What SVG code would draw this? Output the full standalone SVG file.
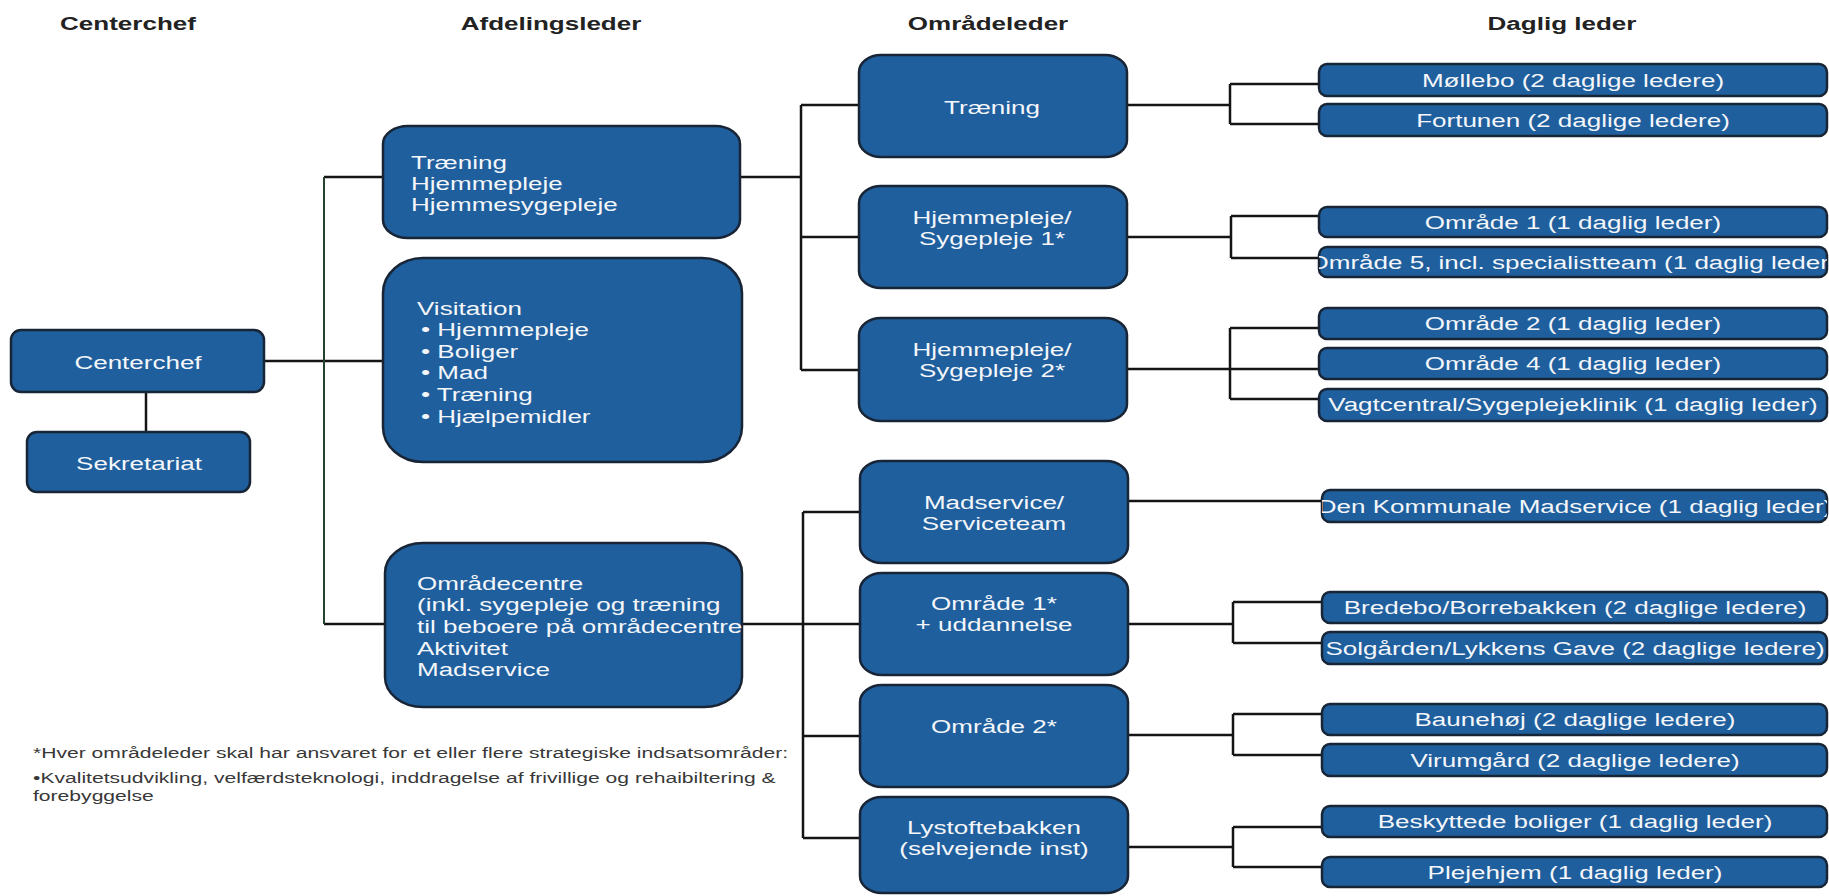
<svg xmlns="http://www.w3.org/2000/svg" width="1829" height="896" viewBox="0 0 1829 896">
<style>
.box{fill:#1f5f9d;stroke:#182536;stroke-width:2.5}
.t{font-family:"Liberation Sans",Arial,sans-serif;font-size:19px;fill:#f4f6fa}
.c{text-anchor:middle}
.h{font-family:"Liberation Sans",Arial,sans-serif;font-size:19px;font-weight:bold;fill:#222;text-anchor:middle}
.fn{font-family:"Liberation Sans",Arial,sans-serif;font-size:15.4px;fill:#383838}
.ln{fill:none;stroke:#141414;stroke-width:2.5}
.lg{fill:none;stroke:#24412f;stroke-width:2}
</style>
<defs>
<clipPath id="clip5"><rect x="1319" y="247" width="508" height="30" rx="8"/></clipPath>
<clipPath id="clipDK"><rect x="1322" y="490" width="505" height="32" rx="8"/></clipPath>
</defs>
<rect width="1829" height="896" fill="#ffffff"/>

<g id="headers">
<text class="h" transform="translate(128 30) scale(1.37 1)">Centerchef</text>
<text class="h" transform="translate(551 30) scale(1.37 1)">Afdelingsleder</text>
<text class="h" transform="translate(988 30) scale(1.37 1)">Områdeleder</text>
<text class="h" transform="translate(1562 30) scale(1.37 1)">Daglig leder</text>
</g>

<g id="connectors">
<path class="ln" d="M146 392V432"/>
<path class="ln" d="M264 361H383"/>
<path class="ln" d="M383 177H324M324 624H385"/>
<path class="lg" d="M324 177V624"/>
<path class="ln" d="M740 177H801M801 105V370M801 105H859M801 237H859M801 370H859"/>
<path class="ln" d="M742 624H803M803 512V838M803 512H860M803 624H860M803 736H860M803 838H860"/>
<path class="ln" d="M1127 105H1230M1230 84V124M1230 84H1319M1230 124H1319"/>
<path class="ln" d="M1127 237H1231M1231 216V258M1231 216H1319M1231 258H1319"/>
<path class="ln" d="M1127 369H1230M1230 328V399M1230 328H1319M1230 369H1319M1230 399H1319"/>
<path class="ln" d="M1128 501H1322"/>
<path class="ln" d="M1128 624H1233M1233 602V643M1233 602H1322M1233 643H1322"/>
<path class="ln" d="M1128 735H1233M1233 714V755M1233 714H1322M1233 755H1322"/>
<path class="ln" d="M1128 847H1233M1233 827V867M1233 827H1322M1233 867H1322"/>
</g>

<g id="centerchef">
<rect class="box" x="11" y="330" width="253" height="62" rx="10"/>
<text class="t c" transform="translate(138 369) scale(1.37 1)">Centerchef</text>
</g>
<g id="sekretariat">
<rect class="box" x="27" y="432" width="223" height="60" rx="10"/>
<text class="t c" transform="translate(139 470) scale(1.37 1)">Sekretariat</text>
</g>

<g id="afd-traening">
<rect class="box" x="383" y="126" width="357" height="112" rx="25" ry="18"/>
<text class="t" transform="translate(411 169) scale(1.37 1)">Træning</text>
<text class="t" transform="translate(411 190) scale(1.37 1)">Hjemmepleje</text>
<text class="t" transform="translate(411 211) scale(1.37 1)">Hjemmesygepleje</text>
</g>
<g id="afd-visitation">
<rect class="box" x="383" y="258" width="359" height="204" rx="40" ry="35"/>
<text class="t" transform="translate(417 315) scale(1.37 1)">Visitation</text>
<text class="t" transform="translate(421 336) scale(1.37 1)">• Hjemmepleje</text>
<text class="t" transform="translate(421 358) scale(1.37 1)">• Boliger</text>
<text class="t" transform="translate(421 379) scale(1.37 1)">• Mad</text>
<text class="t" transform="translate(421 401) scale(1.37 1)">• Træning</text>
<text class="t" transform="translate(421 423) scale(1.37 1)">• Hjælpemidler</text>
</g>
<g id="afd-omraadecentre">
<rect class="box" x="385" y="543" width="357" height="164" rx="38" ry="30"/>
<text class="t" transform="translate(417 590) scale(1.37 1)">Områdecentre</text>
<text class="t" transform="translate(417 611) scale(1.37 1)">(inkl. sygepleje og træning</text>
<text class="t" transform="translate(417 633) scale(1.37 1)">til beboere på områdecentre</text>
<text class="t" transform="translate(417 655) scale(1.37 1)">Aktivitet</text>
<text class="t" transform="translate(417 676) scale(1.37 1)">Madservice</text>
</g>

<g id="omr-traening">
<rect class="box" x="859" y="55" width="268" height="102" rx="22" ry="17"/>
<text class="t c" transform="translate(992 114) scale(1.37 1)">Træning</text>
</g>
<g id="omr-hs1">
<rect class="box" x="859" y="186" width="268" height="102" rx="22" ry="17"/>
<text class="t c" transform="translate(992 224) scale(1.37 1)">Hjemmepleje/</text>
<text class="t c" transform="translate(992 245) scale(1.37 1)">Sygepleje 1*</text>
</g>
<g id="omr-hs2">
<rect class="box" x="859" y="318" width="268" height="103" rx="22" ry="17"/>
<text class="t c" transform="translate(992 356) scale(1.37 1)">Hjemmepleje/</text>
<text class="t c" transform="translate(992 377) scale(1.37 1)">Sygepleje 2*</text>
</g>
<g id="omr-madservice">
<rect class="box" x="860" y="461" width="268" height="102" rx="22" ry="17"/>
<text class="t c" transform="translate(994 509) scale(1.37 1)">Madservice/</text>
<text class="t c" transform="translate(994 530) scale(1.37 1)">Serviceteam</text>
</g>
<g id="omr-omraade1">
<rect class="box" x="860" y="573" width="268" height="102" rx="22" ry="17"/>
<text class="t c" transform="translate(994 610) scale(1.37 1)">Område 1*</text>
<text class="t c" transform="translate(994 631) scale(1.37 1)">+ uddannelse</text>
</g>
<g id="omr-omraade2">
<rect class="box" x="860" y="685" width="268" height="102" rx="22" ry="17"/>
<text class="t c" transform="translate(994 733) scale(1.37 1)">Område 2*</text>
</g>
<g id="omr-lystoftebakken">
<rect class="box" x="860" y="797" width="268" height="96" rx="22" ry="17"/>
<text class="t c" transform="translate(994 834) scale(1.37 1)">Lystoftebakken</text>
<text class="t c" transform="translate(994 855) scale(1.37 1)">(selvejende inst)</text>
</g>

<g id="dl-moellebo">
<rect class="box" x="1319" y="64" width="508" height="32" rx="8"/>
<text class="t c" transform="translate(1573 87) scale(1.37 1)">Møllebo (2 daglige ledere)</text>
</g>
<g id="dl-fortunen">
<rect class="box" x="1319" y="104" width="508" height="32" rx="8"/>
<text class="t c" transform="translate(1573 127) scale(1.37 1)">Fortunen (2 daglige ledere)</text>
</g>
<g id="dl-omr1">
<rect class="box" x="1319" y="207" width="508" height="30" rx="8"/>
<text class="t c" transform="translate(1573 229) scale(1.37 1)">Område 1 (1 daglig leder)</text>
</g>
<g id="dl-omr5">
<rect class="box" x="1319" y="247" width="508" height="30" rx="8"/>
<g clip-path="url(#clip5)">
<text class="t c" transform="translate(1573 269) scale(1.37 1)">Område 5, incl. specialistteam (1 daglig leder)</text>
</g>
</g>
<g id="dl-omr2">
<rect class="box" x="1319" y="308" width="508" height="31" rx="8"/>
<text class="t c" transform="translate(1573 330) scale(1.37 1)">Område 2 (1 daglig leder)</text>
</g>
<g id="dl-omr4">
<rect class="box" x="1319" y="348" width="508" height="31" rx="8"/>
<text class="t c" transform="translate(1573 370) scale(1.37 1)">Område 4 (1 daglig leder)</text>
</g>
<g id="dl-vagtcentral">
<rect class="box" x="1319" y="389" width="508" height="32" rx="8"/>
<text class="t c" transform="translate(1573 411) scale(1.37 1)">Vagtcentral/Sygeplejeklinik (1 daglig leder)</text>
</g>
<g id="dl-madservice">
<rect class="box" x="1322" y="490" width="505" height="32" rx="8"/>
<g clip-path="url(#clipDK)">
<text class="t c" transform="translate(1575 513) scale(1.37 1)">Den Kommunale Madservice (1 daglig leder)</text>
</g>
</g>
<g id="dl-bredebo">
<rect class="box" x="1322" y="592" width="505" height="31" rx="8"/>
<text class="t c" transform="translate(1575 614) scale(1.37 1)">Bredebo/Borrebakken (2 daglige ledere)</text>
</g>
<g id="dl-solgaarden">
<rect class="box" x="1322" y="632" width="505" height="32" rx="8"/>
<text class="t c" transform="translate(1575 655) scale(1.37 1)">Solgården/Lykkens Gave (2 daglige ledere)</text>
</g>
<g id="dl-baunehoej">
<rect class="box" x="1322" y="704" width="505" height="31" rx="8"/>
<text class="t c" transform="translate(1575 726) scale(1.37 1)">Baunehøj (2 daglige ledere)</text>
</g>
<g id="dl-virumgaard">
<rect class="box" x="1322" y="744" width="505" height="32" rx="8"/>
<text class="t c" transform="translate(1575 767) scale(1.37 1)">Virumgård (2 daglige ledere)</text>
</g>
<g id="dl-beskyttede">
<rect class="box" x="1322" y="806" width="505" height="31" rx="8"/>
<text class="t c" transform="translate(1575 828) scale(1.37 1)">Beskyttede boliger (1 daglig leder)</text>
</g>
<g id="dl-plejehjem">
<rect class="box" x="1322" y="857" width="505" height="30" rx="8"/>
<text class="t c" transform="translate(1575 879) scale(1.37 1)">Plejehjem (1 daglig leder)</text>
</g>

<g id="footnote">
<text class="fn" transform="translate(33 758) scale(1.37 1)">*Hver områdeleder skal har ansvaret for et eller flere strategiske indsatsområder:</text>
<text class="fn" transform="translate(33 783) scale(1.37 1)">•Kvalitetsudvikling, velfærdsteknologi, inddragelse af frivillige og rehaibiltering &amp;</text>
<text class="fn" transform="translate(33 801) scale(1.37 1)">forebyggelse</text>
</g>
</svg>
